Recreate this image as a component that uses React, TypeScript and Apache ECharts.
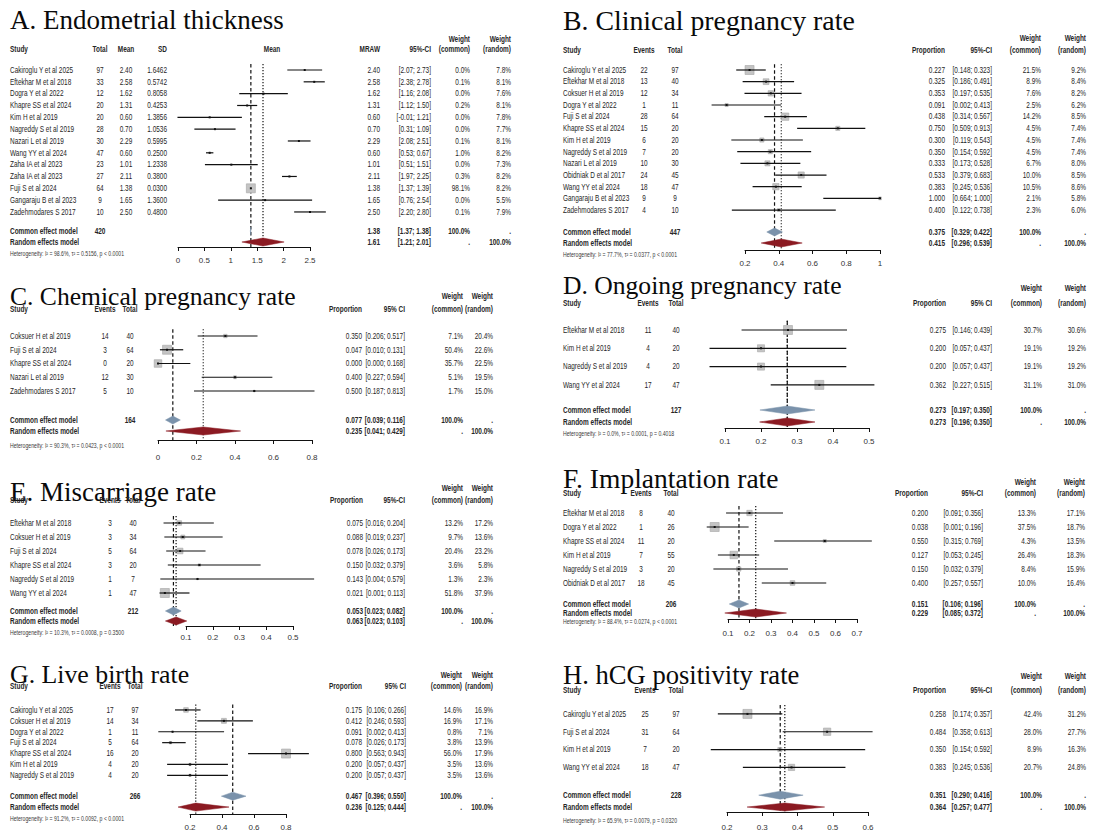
import React, { useEffect, useRef } from "react";
import * as echarts from "echarts";

// ---------------- A. Endometrial thickness ----------------
const A_study = ["Cakiroglu Y et al 2025", "Eftekhar M et al 2018", "Dogra Y et al 2022", "Khapre SS et al 2024", "Kim H et al 2019", "Nagreddy S et al 2019", "Nazari L et al 2019", "Wang YY et al 2024", "Zaha IA et al 2023", "Zaha IA et al 2023", "Fuji S et al 2024", "Gangaraju B et al 2023", "Zadehmodares S 2017"];
const A_total = [97, 33, 12, 20, 20, 28, 30, 47, 23, 27, 64, 9, 10];
const A_mean = [2.40, 2.58, 1.62, 1.31, 0.60, 0.70, 2.29, 0.60, 1.01, 2.11, 1.38, 1.65, 2.50];
const A_sd = [1.6462, 0.5742, 0.8058, 0.4253, 1.3856, 1.0536, 0.5995, 0.2500, 1.2338, 0.3800, 0.0300, 1.3600, 0.4800];
const A_lo = [2.07, 2.38, 1.16, 1.12, -0.01, 0.31, 2.08, 0.53, 0.51, 1.97, 1.37, 0.76, 2.20];
const A_hi = [2.73, 2.78, 2.08, 1.50, 1.21, 1.09, 2.51, 0.67, 1.51, 2.25, 1.39, 2.54, 2.80];
const A_wCommon = [0.0, 0.1, 0.0, 0.2, 0.0, 0.0, 0.1, 1.0, 0.0, 0.3, 98.1, 0.0, 0.1];
const A_wRandom = [7.8, 8.1, 7.6, 8.1, 7.8, 7.7, 8.1, 8.2, 7.3, 8.2, 8.2, 5.5, 7.9];
const A_common = [1.38, 1.37, 1.38, 420];
const A_random = [1.61, 1.21, 2.01];
const A_het = "Heterogeneity: I² = 98.6%, τ² = 0.5156, p < 0.0001";
const A_ticks = [0, 0.5, 1, 1.5, 2, 2.5];

// ---------------- B. Clinical pregnancy rate ----------------
const B_study = ["Cakiroglu Y et al 2025", "Eftekhar M et al 2018", "Coksuer H et al 2019", "Dogra Y et al 2022", "Fuji S et al 2024", "Khapre SS et al 2024", "Kim H et al 2019", "Nagreddy S et al 2019", "Nazari L et al 2019", "Obidniak D et al 2017", "Wang YY et al 2024", "Gangaraju B et al 2023", "Zadehmodares S 2017"];
const B_events = [22, 13, 12, 1, 28, 15, 6, 7, 10, 24, 18, 9, 4];
const B_total = [97, 40, 34, 11, 64, 20, 20, 20, 30, 45, 47, 9, 10];
const B_prop = [0.227, 0.325, 0.353, 0.091, 0.438, 0.750, 0.300, 0.350, 0.333, 0.533, 0.383, 1.000, 0.400];
const B_lo = [0.148, 0.186, 0.197, 0.002, 0.314, 0.509, 0.119, 0.154, 0.173, 0.379, 0.245, 0.664, 0.122];
const B_hi = [0.323, 0.491, 0.535, 0.413, 0.567, 0.913, 0.543, 0.592, 0.528, 0.683, 0.536, 1.000, 0.738];
const B_wCommon = [21.5, 8.9, 7.6, 2.5, 14.2, 4.5, 4.5, 4.5, 6.7, 10.0, 10.5, 2.1, 2.3];
const B_wRandom = [9.2, 8.4, 8.2, 6.2, 8.5, 7.4, 7.4, 7.4, 8.0, 8.5, 8.6, 5.8, 6.0];
const B_common = [0.375, 0.329, 0.422, 447];
const B_random = [0.415, 0.296, 0.539];
const B_het = "Heterogeneity: I² = 77.7%, τ² = 0.0377, p < 0.0001";
const B_ticks = [0.2, 0.4, 0.6, 0.8, 1];

// ---------------- C. Chemical pregnancy rate ----------------
const C_study = ["Coksuer H et al 2019", "Fuji S et al 2024", "Khapre SS et al 2024", "Nazari L et al 2019", "Zadehmodares S 2017"];
const C_events = [14, 3, 0, 12, 5];
const C_total = [40, 64, 20, 30, 10];
const C_prop = [0.350, 0.047, 0.000, 0.400, 0.500];
const C_lo = [0.206, 0.010, 0.000, 0.227, 0.187];
const C_hi = [0.517, 0.131, 0.168, 0.594, 0.813];
const C_wCommon = [7.1, 50.4, 35.7, 5.1, 1.7];
const C_wRandom = [20.4, 22.6, 22.5, 19.5, 15.0];
const C_common = [0.077, 0.039, 0.116, 164];
const C_random = [0.235, 0.041, 0.429];
const C_het = "Heterogeneity: I² = 90.3%, τ² = 0.0423, p < 0.0001";
const C_ticks = [0, 0.2, 0.4, 0.6, 0.8];

// ---------------- D. Ongoing pregnancy rate ----------------
const D_study = ["Eftekhar M et al 2018", "Kim H et al 2019", "Nagreddy S et al 2019", "Wang YY et al 2024"];
const D_events = [11, 4, 4, 17];
const D_total = [40, 20, 20, 47];
const D_prop = [0.275, 0.200, 0.200, 0.362];
const D_lo = [0.146, 0.057, 0.057, 0.227];
const D_hi = [0.439, 0.437, 0.437, 0.515];
const D_wCommon = [30.7, 19.1, 19.1, 31.1];
const D_wRandom = [30.6, 19.2, 19.2, 31.0];
const D_common = [0.273, 0.197, 0.350, 127];
const D_random = [0.273, 0.196, 0.350];
const D_het = "Heterogeneity: I² = 0.0%, τ² = 0.0001, p = 0.4018";
const D_ticks = [0.1, 0.2, 0.3, 0.4, 0.5];

// ---------------- E. Miscarriage rate ----------------
const E_study = ["Eftekhar M et al 2018", "Coksuer H et al 2019", "Fuji S et al 2024", "Khapre SS et al 2024", "Nagreddy S et al 2019", "Wang YY et al 2024"];
const E_events = [3, 3, 5, 3, 1, 1];
const E_total = [40, 34, 64, 20, 7, 47];
const E_prop = [0.075, 0.088, 0.078, 0.150, 0.143, 0.021];
const E_lo = [0.016, 0.019, 0.026, 0.032, 0.004, 0.001];
const E_hi = [0.204, 0.237, 0.173, 0.379, 0.579, 0.113];
const E_wCommon = [13.2, 9.7, 20.4, 3.6, 1.3, 51.8];
const E_wRandom = [17.2, 13.6, 23.2, 5.8, 2.3, 37.9];
const E_common = [0.053, 0.023, 0.082, 212];
const E_random = [0.063, 0.023, 0.103];
const E_het = "Heterogeneity: I² = 10.3%, τ² = 0.0008, p = 0.3500";
const E_ticks = [0.1, 0.2, 0.3, 0.4, 0.5];

// ---------------- F. Implantation rate ----------------
const F_study = ["Eftekhar M et al 2018", "Dogra Y et al 2022", "Khapre SS et al 2024", "Kim H et al 2019", "Nagreddy S et al 2019", "Obidniak D et al 2017"];
const F_events = [8, 1, 11, 7, 3, 18];
const F_total = [40, 26, 20, 55, 20, 45];
const F_prop = [0.200, 0.038, 0.550, 0.127, 0.150, 0.400];
const F_lo = [0.091, 0.001, 0.315, 0.053, 0.032, 0.257];
const F_hi = [0.356, 0.196, 0.769, 0.245, 0.379, 0.557];
const F_wCommon = [13.3, 37.5, 4.3, 26.4, 8.4, 10.0];
const F_wRandom = [17.1, 18.7, 13.5, 18.3, 15.9, 16.4];
const F_common = [0.151, 0.106, 0.196, 206];
const F_random = [0.229, 0.085, 0.372];
const F_het = "Heterogeneity: I² = 88.4%, τ² = 0.0274, p < 0.0001";
const F_ticks = [0.1, 0.2, 0.3, 0.4, 0.5, 0.6, 0.7];

// ---------------- G. Live birth rate ----------------
const G_study = ["Cakiroglu Y et al 2025", "Coksuer H et al 2019", "Dogra Y et al 2022", "Fuji S et al 2024", "Khapre SS et al 2024", "Kim H et al 2019", "Nagreddy S et al 2019"];
const G_events = [17, 14, 1, 5, 16, 4, 4];
const G_total = [97, 34, 11, 64, 20, 20, 20];
const G_prop = [0.175, 0.412, 0.091, 0.078, 0.800, 0.200, 0.200];
const G_lo = [0.106, 0.246, 0.002, 0.026, 0.563, 0.057, 0.057];
const G_hi = [0.266, 0.593, 0.413, 0.173, 0.943, 0.437, 0.437];
const G_wCommon = [14.6, 16.9, 0.8, 3.8, 56.0, 3.5, 3.5];
const G_wRandom = [16.9, 17.1, 7.1, 13.9, 17.9, 13.6, 13.6];
const G_common = [0.467, 0.396, 0.550, 266];
const G_random = [0.236, 0.125, 0.444];
const G_het = "Heterogeneity: I² = 91.2%, τ² = 0.0092, p < 0.0001";
const G_ticks = [0.2, 0.4, 0.6, 0.8];

// ---------------- H. hCG positivity rate ----------------
const H_study = ["Cakiroglu Y et al 2025", "Fuji S et al 2024", "Kim H et al 2019", "Wang YY et al 2024"];
const H_events = [25, 31, 7, 18];
const H_total = [97, 64, 20, 47];
const H_prop = [0.258, 0.484, 0.350, 0.383];
const H_lo = [0.174, 0.358, 0.154, 0.245];
const H_hi = [0.357, 0.613, 0.592, 0.536];
const H_wCommon = [42.4, 28.0, 8.9, 20.7];
const H_wRandom = [31.2, 27.7, 16.3, 24.8];
const H_common = [0.351, 0.290, 0.416, 228];
const H_random = [0.364, 0.257, 0.477];
const H_het = "Heterogeneity: I² = 65.9%, τ² = 0.0079, p = 0.0320";
const H_ticks = [0.2, 0.3, 0.4, 0.5, 0.6];

// ---------------- styling / layout ----------------
const FONT = '"Liberation Sans", Arial, sans-serif';
const SERIF = '"Liberation Serif", "Times New Roman", serif';
const SX = 0.76;
const TXT = "#262626";
const SQ_MAX = 9;
const DIA_H = 4;
const COMMON_FILL = "#7a92ab";
const RANDOM_FILL = "#8b1a22";

type Align = "left" | "center" | "right";
interface Col { x: number; align: Align; h1?: string; h2: string }
interface Lay {
  ox: number; titleY: number; titleSize: number; wY: number; hY: number; y0: number; dy: number;
  cY: number; rY: number; hetY: number; axisY: number; labelY: number; plotL: number; plotR: number;
}
interface Panel {
  title: string; ticks: number[]; est: number[]; lo: number[]; hi: number[]; w: number[];
  common: number[]; random: number[]; cols: Col[]; rows: string[][];
  commonRow: string[]; randomRow: string[]; het: string; plotHeader?: { text: string; x: number }; L: Lay;
}

const f3 = (v: number) => v.toFixed(3);
const ci3 = (l: number, h: number) => `[${l.toFixed(3)}; ${h.toFixed(3)}]`;
const ci2 = (l: number, h: number) => `[${l.toFixed(2)}; ${h.toFixed(2)}]`;
const pct = (v: number) => v.toFixed(1) + "%";

function propPanel(
  title: string, ticks: number[], study: string[], events: number[], total: number[], prop: number[],
  lo: number[], hi: number[], wc: number[], wr: number[], common: number[], random: number[], het: string,
  ciLabel: string, xs: number[], L: Lay
): Panel {
  const cols: Col[] = [
    { x: xs[0], align: "left", h2: "Study" },
    { x: xs[1], align: "center", h2: "Events" },
    { x: xs[2], align: "center", h2: "Total" },
    { x: xs[3], align: "right", h2: "Proportion" },
    { x: xs[4], align: "right", h2: ciLabel },
    { x: xs[5], align: "right", h1: "Weight", h2: "(common)" },
    { x: xs[6], align: "right", h1: "Weight", h2: "(random)" },
  ];
  const rows = study.map((s, i) => [s, String(events[i]), String(total[i]), f3(prop[i]), ci3(lo[i], hi[i]), pct(wc[i]), pct(wr[i])]);
  return {
    title, ticks, est: prop, lo, hi, w: wc, common, random, cols, rows,
    commonRow: ["Common effect model", "", String(common[3]), f3(common[0]), ci3(common[1], common[2]), "100.0%", "."],
    randomRow: ["Random effects model", "", "", f3(random[0]), ci3(random[1], random[2]), ".", "100.0%"],
    het, L,
  };
}

function panelA(): Panel {
  const L: Lay = { ox: 10, titleY: 20, titleSize: 27, wY: 39, hY: 49, y0: 70, dy: 11.83, cY: 231, rY: 242, hetY: 254, axisY: 247, labelY: 260, plotL: 178, plotR: 310 };
  const cols: Col[] = [
    { x: 10, align: "left", h2: "Study" },
    { x: 100, align: "center", h2: "Total" },
    { x: 126, align: "center", h2: "Mean" },
    { x: 167, align: "right", h2: "SD" },
    { x: 380, align: "right", h2: "MRAW" },
    { x: 431, align: "right", h2: "95%-CI" },
    { x: 470, align: "right", h1: "Weight", h2: "(common)" },
    { x: 511, align: "right", h1: "Weight", h2: "(random)" },
  ];
  const rows = A_study.map((s, i) => [s, String(A_total[i]), A_mean[i].toFixed(2), A_sd[i].toFixed(4), A_mean[i].toFixed(2), ci2(A_lo[i], A_hi[i]), pct(A_wCommon[i]), pct(A_wRandom[i])]);
  return {
    title: "A. Endometrial thickness", ticks: A_ticks, est: A_mean, lo: A_lo, hi: A_hi, w: A_wCommon,
    common: A_common, random: A_random, cols, rows,
    commonRow: ["Common effect model", String(A_common[3]), "", "", A_common[0].toFixed(2), ci2(A_common[1], A_common[2]), "100.0%", "."],
    randomRow: ["Random effects model", "", "", "", A_random[0].toFixed(2), ci2(A_random[1], A_random[2]), ".", "100.0%"],
    het: A_het, plotHeader: { text: "Mean", x: 272 }, L,
  };
}

const PANELS: Panel[] = [
  panelA(),
  propPanel("B. Clinical pregnancy rate", B_ticks, B_study, B_events, B_total, B_prop, B_lo, B_hi, B_wCommon, B_wRandom, B_common, B_random, B_het, "95%-CI",
    [563, 644, 675, 945, 992, 1041, 1086],
    { ox: 563, titleY: 20, titleSize: 27.8, wY: 38, hY: 50, y0: 70, dy: 11.67, cY: 232, rY: 243, hetY: 255, axisY: 250, labelY: 263, plotL: 745, plotR: 880 }),
  propPanel("C. Chemical pregnancy rate", C_ticks, C_study, C_events, C_total, C_prop, C_lo, C_hi, C_wCommon, C_wRandom, C_common, C_random, C_het, "95% CI",
    [10, 105, 130, 362, 405, 463, 493],
    { ox: 10, titleY: 296, titleSize: 25.6, wY: 296, hY: 309, y0: 336, dy: 13.75, cY: 420, rY: 431, hetY: 446, axisY: 440, labelY: 457, plotL: 158, plotR: 312 }),
  propPanel("D. Ongoing pregnancy rate", D_ticks, D_study, D_events, D_total, D_prop, D_lo, D_hi, D_wCommon, D_wRandom, D_common, D_random, D_het, "95% CI",
    [563, 648, 676, 946, 992, 1042, 1086],
    { ox: 563, titleY: 285, titleSize: 25.6, wY: 288, hY: 303, y0: 330, dy: 18.3, cY: 410, rY: 422, hetY: 434, axisY: 428, labelY: 441, plotL: 725, plotR: 869 }),
  propPanel("E. Miscarriage rate", E_ticks, E_study, E_events, E_total, E_prop, E_lo, E_hi, E_wCommon, E_wRandom, E_common, E_random, E_het, "95%-CI",
    [10, 110, 133, 363, 405, 463, 493],
    { ox: 10, titleY: 492, titleSize: 27, wY: 488, hY: 500, y0: 523, dy: 14, cY: 611, rY: 621, hetY: 633, axisY: 626, labelY: 637, plotL: 186, plotR: 293 }),
  propPanel("F. Implantation rate", F_ticks, F_study, F_events, F_total, F_prop, F_lo, F_hi, F_wCommon, F_wRandom, F_common, F_random, F_het, "95%-CI",
    [563, 641, 671, 928, 983, 1036, 1085],
    { ox: 563, titleY: 478, titleSize: 27.5, wY: 482, hY: 493, y0: 513, dy: 14, cY: 604, rY: 613, hetY: 622, axisY: 619, labelY: 633, plotL: 728, plotR: 857 }),
  propPanel("G. Live birth rate", G_ticks, G_study, G_events, G_total, G_prop, G_lo, G_hi, G_wCommon, G_wRandom, G_common, G_random, G_het, "95% CI",
    [10, 110, 135, 362, 406, 462, 493],
    { ox: 10, titleY: 674, titleSize: 25.8, wY: 675, hY: 686, y0: 710, dy: 11, cY: 797, rY: 808, hetY: 820, axisY: 815, labelY: 828, plotL: 190, plotR: 286 }),
  propPanel("H. hCG positivity rate", H_ticks, H_study, H_events, H_total, H_prop, H_lo, H_hi, H_wCommon, H_wRandom, H_common, H_random, H_het, "95%-CI",
    [563, 645, 676, 946, 992, 1042, 1086],
    { ox: 563, titleY: 675, titleSize: 26.6, wY: 676, hY: 690, y0: 714, dy: 18, cY: 796, rY: 808, hetY: 822, axisY: 813, labelY: 828, plotL: 727, plotR: 868 }),
];

function textEl(text: string, x: number, y: number, align: Align, bold = false, size = 8.5, color = TXT) {
  return {
    type: "text", x, y, scaleX: SX, silent: true,
    style: { text, align, verticalAlign: "middle", fontSize: size, fontFamily: FONT, fontWeight: bold ? "bold" : "normal", fill: color },
  };
}

function buildOption() {
  const option: any = { animation: false, backgroundColor: "#fff", grid: [], xAxis: [], yAxis: [], series: [], graphic: [] };
  PANELS.forEach((p, k) => {
    const L = p.L;
    const top = L.y0 - 0.5 * L.dy;
    const yMax = (L.axisY - L.y0) / L.dy;
    const rowOf = (py: number) => (py - L.y0) / L.dy;
    const tMin = p.ticks[0];
    const tMax = p.ticks[p.ticks.length - 1];
    const interval = +(p.ticks[1] - p.ticks[0]).toFixed(6);
    const wMax = Math.max(...p.w);

    option.grid.push({ left: L.plotL, top, width: L.plotR - L.plotL, height: L.axisY - top, containLabel: false });
    option.xAxis.push({
      gridIndex: k, type: "value", min: tMin, max: tMax, interval, position: "bottom",
      axisLine: { show: true, onZero: false, lineStyle: { color: "#111", width: 1 } },
      axisTick: { show: true, length: 4, lineStyle: { color: "#111", width: 1 } },
      axisLabel: { show: true, fontSize: 8, color: "#333", fontFamily: FONT, margin: L.labelY - L.axisY - 4 },
      splitLine: { show: false },
    });
    option.yAxis.push({ gridIndex: k, type: "value", inverse: true, min: -0.5, max: yMax, show: false });

    // reference lines (common: dashed, random: dotted)
    option.series.push({
      type: "custom", xAxisIndex: k, yAxisIndex: k, silent: true, z: 2,
      data: [[p.common[0], 0], [p.random[0], 1]],
      renderItem: (params: any, api: any) => {
        const v = api.value(0);
        const kind = api.value(1);
        const a = api.coord([v, -0.5]);
        const b = api.coord([v, yMax]);
        return {
          type: "line", shape: { x1: a[0], y1: a[1], x2: b[0], y2: b[1] },
          style: { stroke: "#111", lineWidth: 1.2, lineDash: kind === 0 ? [3.5, 2.5] : [1.2, 1.8] },
        };
      },
    });

    // study CIs and squares
    option.series.push({
      type: "custom", xAxisIndex: k, yAxisIndex: k, silent: true, z: 3,
      data: p.est.map((e, i) => [e, i, p.lo[i], p.hi[i], p.w[i]]),
      encode: { x: 0, y: 1 },
      renderItem: (params: any, api: any) => {
        const e = api.value(0), r = api.value(1), lo = api.value(2), hi = api.value(3), w = api.value(4);
        const pc = api.coord([e, r]);
        const pl = api.coord([lo, r]);
        const ph = api.coord([hi, r]);
        const s = SQ_MAX * Math.sqrt(Math.max(w, 0) / wMax);
        return {
          type: "group",
          children: [
            { type: "rect", shape: { x: pc[0] - s / 2, y: pc[1] - s / 2, width: s, height: s }, style: { fill: "#c4c4c4", stroke: "#a6a6a6", lineWidth: 0.6 } },
            { type: "line", shape: { x1: pl[0], y1: pl[1], x2: ph[0], y2: ph[1] }, style: { stroke: "#111", lineWidth: 1.2 } },
            { type: "rect", shape: { x: pc[0] - 1, y: pc[1] - 1, width: 2, height: 2 }, style: { fill: "#111" } },
          ],
        };
      },
    });

    // pooled diamonds
    option.series.push({
      type: "custom", xAxisIndex: k, yAxisIndex: k, silent: true, z: 4,
      data: [
        [p.common[0], rowOf(L.cY), p.common[1], p.common[2], 0],
        [p.random[0], rowOf(L.rY), p.random[1], p.random[2], 1],
      ],
      encode: { x: 0, y: 1 },
      renderItem: (params: any, api: any) => {
        const e = api.value(0), r = api.value(1), lo = api.value(2), hi = api.value(3), kind = api.value(4);
        const pc = api.coord([e, r]);
        const pl = api.coord([lo, r]);
        const ph = api.coord([hi, r]);
        const fill = kind === 0 ? COMMON_FILL : RANDOM_FILL;
        return {
          type: "polygon",
          shape: { points: [[pl[0], pc[1]], [pc[0], pc[1] - DIA_H], [ph[0], pc[1]], [pc[0], pc[1] + DIA_H]] },
          style: { fill, stroke: fill, lineWidth: 0.5 },
        };
      },
    });

    // table text rows
    const textRows: { row: number; bold: boolean; size: number; color: string; cells: { text: string; x: number; align: Align }[] }[] = [];
    p.rows.forEach((cells, i) => {
      textRows.push({ row: i, bold: false, size: 8.5, color: TXT, cells: cells.map((t, j) => ({ text: t, x: p.cols[j].x, align: p.cols[j].align })) });
    });
    textRows.push({ row: rowOf(L.cY), bold: true, size: 8.5, color: TXT, cells: p.commonRow.map((t, j) => ({ text: t, x: p.cols[j].x, align: p.cols[j].align })) });
    textRows.push({ row: rowOf(L.rY), bold: true, size: 8.5, color: TXT, cells: p.randomRow.map((t, j) => ({ text: t, x: p.cols[j].x, align: p.cols[j].align })) });
    textRows.push({ row: rowOf(L.hetY), bold: false, size: 6.8, color: "#3a3a3a", cells: [{ text: p.het, x: L.ox, align: "left" }] });

    option.series.push({
      type: "custom", xAxisIndex: k, yAxisIndex: k, silent: true, z: 5,
      data: textRows.map((r) => [tMin, r.row]),
      encode: { x: 0, y: 1 },
      renderItem: (params: any, api: any) => {
        const tr = textRows[params.dataIndex];
        const y = api.coord([api.value(0), api.value(1)])[1];
        return {
          type: "group",
          children: tr.cells.filter((c) => c.text !== "").map((c) => textEl(c.text, c.x, y, c.align, tr.bold, tr.size, tr.color)),
        };
      },
    });

    // title and headers
    option.graphic.push({
      type: "text", x: L.ox, y: L.titleY, silent: true,
      style: { text: p.title, align: "left", verticalAlign: "middle", fontSize: L.titleSize, fontFamily: SERIF, fill: "#0a0a0a" },
    });
    p.cols.forEach((c) => {
      if (c.h1) option.graphic.push(textEl(c.h1, c.x, L.wY, c.align, true, 8.5));
      option.graphic.push(textEl(c.h2, c.x, L.hY, c.align, true, 8.5));
    });
    if (p.plotHeader) option.graphic.push(textEl(p.plotHeader.text, p.plotHeader.x, L.hY, "center", true, 8.5));
  });
  return option;
}

export default function App() {
  const ref = useRef<HTMLDivElement>(null);
  useEffect(() => {
    const chart = echarts.init(ref.current as HTMLDivElement, undefined, { renderer: "svg", width: 1100, height: 831 });
    chart.setOption(buildOption());
    return () => chart.dispose();
  }, []);
  return <div ref={ref} style={{ position: "absolute", left: 0, top: 0, width: 1100, height: 831, background: "#fff" }} />;
}
